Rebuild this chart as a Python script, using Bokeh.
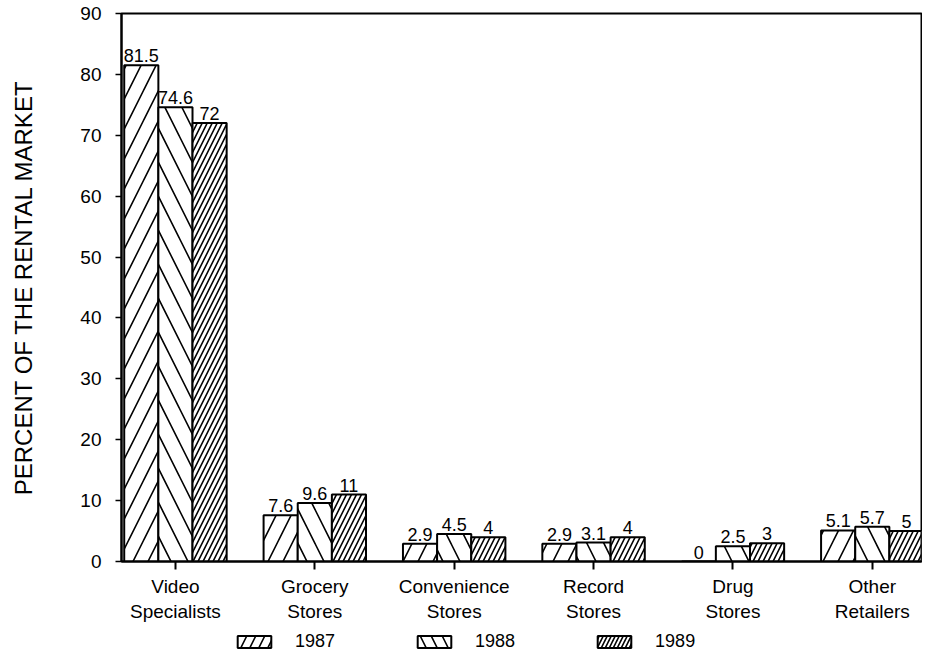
from bokeh.plotting import figure
from bokeh.layouts import column
from bokeh.models import FixedTicker, Legend, LegendItem, Range1d, ColumnDataSource
from bokeh.embed import file_html
from bokeh.resources import INLINE
from bokeh.core.properties import value

categories = ["Video\nSpecialists", "Grocery\nStores", "Convenience\nStores",
              "Record\nStores", "Drug\nStores", "Other\nRetailers"]
years = ["1987", "1988", "1989"]
v1987 = [81.5, 7.6, 2.9, 2.9, 0, 5.1]
v1988 = [74.6, 9.6, 4.5, 3.1, 2.5, 5.7]
v1989 = [72, 11, 4, 4, 3, 5]
y_ticks = [0, 10, 20, 30, 40, 50, 60, 70, 80, 90]
y_label = "PERCENT OF THE RENTAL MARKET"

FONT = "Liberation Sans"
BW = 0.245
patterns = ["/", "\\", "/"]
scales = [30, 34, 10]
W = 922

p = figure(width=W, height=624, output_backend="svg", toolbar_location=None,
           x_range=Range1d(-0.387, 5.353), y_range=Range1d(0, 90),
           min_border_left=121, min_border_right=1, min_border_top=13,
           min_border_bottom=60)
p.background_fill_color = "white"
p.border_fill_color = "white"
p.outline_line_color = "black"
p.outline_line_width = 2
p.xgrid.visible = False
p.ygrid.visible = False

for k, (yr, vals) in enumerate(zip(years, [v1987, v1988, v1989])):
    xs = [i + (k - 1) * BW for i in range(len(categories))]
    src = ColumnDataSource(dict(x=xs, top=vals, lab=[f"{v:g}" for v in vals]))
    p.vbar(x="x", top="top", width=BW, source=src, fill_color="white",
           line_color="black", line_width=2, hatch_pattern=patterns[k],
           hatch_scale=scales[k], hatch_weight=1.6, hatch_color="black")
    p.text(x="x", y="top", text="lab", source=src, text_align="center",
           text_baseline="bottom", y_offset=-3, text_font=value(FONT),
           text_font_size="18px", text_color="black")

xa = p.xaxis[0]
xa.ticker = FixedTicker(ticks=list(range(len(categories))))
xa.major_label_overrides = {i: c for i, c in enumerate(categories)}
xa.major_label_text_font = FONT
xa.major_label_text_font_size = "19px"
xa.major_label_text_color = "black"
xa.major_label_standoff = 6
xa.major_tick_out = 8
xa.major_tick_in = 0
xa.major_tick_line_width = 2
xa.minor_tick_line_color = None
xa.axis_line_width = 2
xa.axis_line_color = "black"

ya = p.yaxis[0]
ya.ticker = FixedTicker(ticks=y_ticks)
ya.major_label_text_font = FONT
ya.major_label_text_font_size = "19px"
ya.major_label_text_color = "black"
ya.major_label_standoff = 14
ya.major_tick_out = 6
ya.major_tick_in = 0
ya.major_tick_line_width = 1.5
ya.minor_tick_line_color = None
ya.axis_line_width = 2
ya.axis_line_color = "black"
ya.axis_label = y_label
ya.axis_label_text_font = FONT
ya.axis_label_text_font_size = "24px"
ya.axis_label_text_font_style = "normal"
ya.axis_label_text_color = "black"
ya.axis_label_standoff = 40

# legend strip
lf = figure(width=W, height=30, output_backend="svg", toolbar_location=None,
            x_range=Range1d(0, 1), y_range=Range1d(0, 1),
            min_border=0, min_border_left=0, min_border_right=0,
            min_border_top=0, min_border_bottom=0)
lf.axis.visible = False
lf.xgrid.visible = False
lf.ygrid.visible = False
lf.outline_line_color = None
lf.background_fill_color = "white"
lf.border_fill_color = "white"
items = []
for k, yr in enumerate(years):
    r = lf.vbar(x=[float("nan")], top=[float("nan")], width=0.1, fill_color="white",
                line_color="black", line_width=2, hatch_pattern=patterns[k],
                hatch_scale=[18, 22, 8][k], hatch_weight=1.6, hatch_color="black")
    items.append(LegendItem(label=yr, renderers=[r]))
legend = Legend(items=items, orientation="horizontal", location=(110, 0),
                glyph_width=42, glyph_height=15, label_standoff=20, spacing=78,
                label_text_font=FONT, label_text_font_size="18px",
                label_text_color="black",
                border_line_alpha=0, background_fill_alpha=0, padding=2, margin=0)
lf.add_layout(legend, "center")

layout = column(p, lf, spacing=0)
open("out.html", "w").write(file_html(layout, INLINE))
